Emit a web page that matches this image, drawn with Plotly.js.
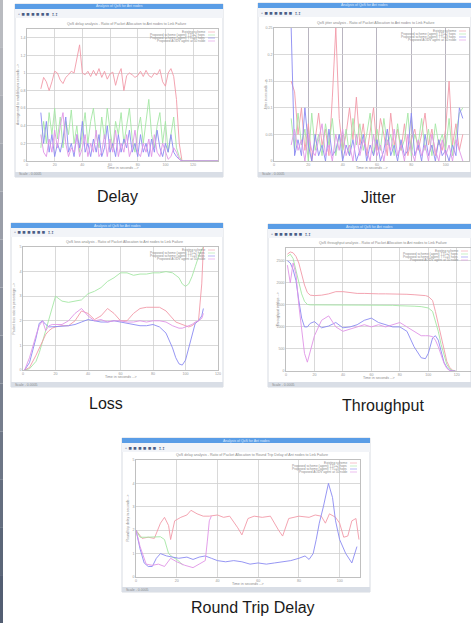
<!DOCTYPE html>
<html><head><meta charset="utf-8">
<script src="https://cdn.plot.ly/plotly-3.0.1.min.js"></script>
<style>html,body{margin:0;padding:0;background:#fff;}#chart{width:471px;height:623px;}</style>
</head><body><div id="chart"></div>
<script>
// ---------------- DATA ----------------
const captions = ["Delay", "Jitter", "Loss", "Throughput", "Round Trip Delay"];
const seriesNames = ["Existing scheme", "Proposed scheme (agent) TTL=2 hops", "Proposed scheme (agent) TTL=3 hops", "Proposed AODV agent at 50 node"];

// Delay
const delayX = [10,12,14,16,18,20,22,24,26,28,30,32,34,36,38,40,42,44,46,48,50,52,54,56,58,60,62,64,66,68,70,72,74,76,78,80,82,84,86,88,90,92,94,96,98,100,102,104,106,108,110,112,140];
const delayRed = [0.82,0.95,0.9,0.8,0.9,1.02,1.0,0.92,0.88,0.95,0.98,1.02,1.0,1.18,1.32,1.0,0.98,1.02,0.96,1.03,0.97,1.05,0.95,1.02,0.93,0.99,1.01,0.86,0.98,1.05,0.8,0.97,1.0,0.98,0.95,0.97,1.02,0.96,1.03,0.97,0.95,1.0,0.98,1.04,0.9,0.85,1.0,1.05,0.96,0.7,0.2,0,0];
const delayGreen = [0.15,0.45,0.2,0.55,0.3,0.6,0.25,0.5,0.15,0.45,0.3,0.58,0.2,0.4,0.1,0.35,0.55,0.2,0.45,0.6,0.3,0.15,0.5,0.25,0.6,0.35,0.15,0.45,0.3,0.55,0.2,0.4,0.6,0.25,0.1,0.35,0.5,0.2,0.45,0.7,0.3,0.15,0.4,0.55,0.2,0.45,0.1,0.3,0.5,0.15,0.05,0,0];
const delayBlue = [0.55,0.2,0.45,0.1,0.3,0.05,0.2,0.1,0.25,0.5,0.1,0.2,0.05,0.3,0.15,0.45,0.1,0.2,0.05,0.25,0.1,0.3,0.05,0.15,0.4,0.1,0.2,0.05,0.3,0.1,0.25,0.15,0.35,0.1,0.2,0.05,0.3,0.1,0.2,0.05,0.25,0.1,0.35,0.15,0.05,0.2,0.1,0.3,0.1,0.05,0.02,0,0];
const delayMagenta = [0.3,0.1,0.05,0.25,0.1,0.35,0.15,0.4,0.55,0.2,0.05,0.15,0.1,0.3,0.05,0.15,0.3,0.05,0.2,0.1,0.35,0.05,0.1,0.3,0.05,0.25,0.1,0.35,0.05,0.2,0.1,0.3,0.05,0.15,0.35,0.1,0.05,0.2,0.1,0.25,0.05,0.3,0.1,0.05,0.2,0.1,0.02,0.05,0.15,0.1,0.02,0,0];

// Jitter
const jitterX = [10,12,14,16,18,20,22,24,26,28,30,32,34,36,38,40,42,44,46,48,50,52,54,56,58,60,62,64,66,68,70,72,74,76,78,80,82,84,86,88,90,92,94,96,98,100,102,104,106,108,110];
const jitterRed = [0.15,0.13,0.05,0.1,0.02,0.07,0.0,0.04,0.09,0.03,0.06,0.01,0.12,0.25,0.08,0.02,0.05,0.1,0.04,0.12,0.03,0.07,0.01,0.06,0.1,0.02,0.08,0.05,0.01,0.09,0.03,0.06,0.02,0.07,0.01,0.04,0.06,0.02,0.05,0.09,0.03,0.06,0.01,0.04,0.02,0.06,0.15,0.03,0.07,0.02,0.05];
const jitterGreen = [0.08,0.02,0.09,0.03,0.06,0.0,0.09,0.02,0.05,0.01,0.07,0.03,0.08,0.01,0.05,0.02,0.06,0.01,0.08,0.03,0.07,0.02,0.05,0.09,0.01,0.06,0.02,0.08,0.03,0.05,0.01,0.07,0.02,0.04,0.09,0.01,0.05,0.03,0.08,0.02,0.06,0.01,0.07,0.03,0.05,0.02,0.08,0.01,0.05,0.09,0.1];
const jitterBlue = [0.25,0.01,0.04,0.01,0.1,0.03,0.0,0.05,0.01,0.03,0.0,0.06,0.01,0.02,0.05,0.0,0.03,0.01,0.04,0.0,0.02,0.05,0.0,0.03,0.01,0.04,0.0,0.02,0.06,0.01,0.03,0.0,0.04,0.01,0.02,0.09,0.01,0.03,0.0,0.05,0.01,0.03,0.0,0.04,0.01,0.02,0.0,0.03,0.01,0.1,0.08];
const jitterMagenta = [0.03,0.06,0.02,0.04,0.0,0.05,0.02,0.01,0.04,0.07,0.01,0.03,0.0,0.05,0.02,0.06,0.01,0.03,0.0,0.05,0.01,0.04,0.02,0.0,0.05,0.01,0.03,0.0,0.04,0.02,0.06,0.01,0.03,0.0,0.05,0.02,0.0,0.04,0.01,0.03,0.0,0.05,0.02,0.0,0.04,0.01,0.03,0.0,0.04,0.02,0.0];

// Loss
const lossX = [1,4,8,10,12,14,16,18,20,24,28,32,36,40,44,48,52,56,60,64,68,72,76,80,84,88,92,94,96,98,100,102,104,106,108,110,111];
const lossGreen = [0,0.05,0.35,0.7,1.15,1.6,2.1,2.6,3.0,2.8,2.75,2.8,2.85,3.1,3.2,3.35,3.6,3.75,3.95,3.95,3.85,3.9,3.9,3.95,3.95,4.0,3.95,3.85,3.75,3.5,3.4,3.5,3.8,4.2,4.6,4.9,5.0];
const lossBlue = [0,0.3,1.3,1.9,2.0,1.85,1.75,1.75,1.75,1.78,1.8,1.85,1.95,2.05,2.0,1.95,1.95,2.0,1.95,1.9,1.85,1.8,1.8,1.85,1.75,1.5,0.9,0.5,0.25,0.2,0.4,0.9,1.5,1.9,2.0,2.2,2.5];
const lossRed = [0,0.1,0.6,0.9,1.2,1.45,1.6,1.7,1.75,1.8,1.8,2.0,2.4,2.3,2.05,2.2,2.5,2.3,2.0,2.0,2.3,2.5,2.55,2.55,2.55,2.4,2.1,1.95,1.9,1.85,1.8,1.75,1.8,1.9,2.0,3.5,5.0];
const lossMagenta = [0,0.5,1.4,1.8,2.0,1.6,1.8,1.85,1.85,1.85,2.0,2.3,2.5,2.2,2.0,2.05,1.95,2.0,2.0,1.95,1.95,2.0,1.95,2.0,2.0,1.95,1.8,1.75,1.7,1.7,1.75,1.8,1.85,1.95,2.0,2.1,2.3];

// Throughput
const tpX = [1,3,5,7,9,11,13,15,17,20,25,30,35,40,45,50,55,60,65,70,75,80,85,90,95,98,100,103,105,107,109,111,113,115,117,119];
const tpRed = [2650,2700,2680,2600,2450,2200,1950,1780,1720,1710,1720,1750,1800,1800,1780,1760,1760,1750,1750,1750,1750,1740,1740,1730,1720,1710,1690,1600,1350,1050,750,450,220,80,20,0];
const tpGreen = [2600,2650,2550,2300,2000,1750,1580,1510,1500,1500,1500,1500,1490,1500,1500,1500,1500,1500,1490,1490,1490,1480,1480,1470,1460,1450,1430,1350,1150,900,600,350,150,50,10,0];
const tpBlue = [2500,2450,2300,2050,1600,1200,1000,1000,1080,1120,980,1020,1100,980,1000,1050,1150,1200,1100,1050,1000,1000,900,550,300,280,400,750,800,700,450,200,80,20,0,0];
const tpMagenta = [2400,2000,2450,2200,1500,900,400,200,450,800,1150,1250,1000,900,950,1000,1050,1000,1050,1000,1050,1100,1000,900,800,800,800,780,700,550,350,180,60,10,0,0];

// Round trip delay
const rtdRedX = [0,3,6,9,12,14,16,17,19,22,25,27,30,33,36,40,43,46,50,52,55,58,62,66,70,72,75,80,85,88,91,93,95,98,100,102,104,106,108,109.5];
const rtdRed = [2.0,1.65,1.7,1.65,2.3,2.55,2.2,1.6,2.4,2.55,2.65,2.85,2.7,2.6,2.6,2.65,2.55,2.6,2.1,1.8,2.5,2.6,2.55,2.6,2.0,1.75,2.5,2.6,2.55,2.65,2.6,2.3,2.7,2.55,2.3,1.7,1.75,2.4,2.5,1.6];
const rtdGreenX = [0,2,5,8,11,12,14,16,18,20,22,23];
const rtdGreen = [2.0,1.7,1.7,1.7,1.7,1.72,1.6,1.0,0.85,0.75,0.6,0.5];
const rtdBlueX = [0,2,4,6,8,10,12,15,18,21,25,28,31,34,37,40,44,48,52,56,60,64,68,72,76,80,83,85,87,88.5,90,92,94.5,96.5,98,100,103,106,108.5];
const rtdBlue = [2.0,1.2,0.6,0.45,0.45,0.8,1.0,0.9,0.85,0.8,0.85,0.75,0.85,0.9,0.8,0.7,0.65,0.7,0.65,0.55,0.6,0.55,0.6,0.65,0.7,0.8,0.9,0.75,1.0,1.6,2.3,3.0,4.0,3.4,2.4,1.6,1.0,0.6,1.3];
const rtdMagentaX = [0,2,5,8,11,14,17,20,24,28,31,34,35,36,37];
const rtdMagenta = [2.0,1.3,0.55,0.5,0.55,0.45,0.8,0.65,0.5,0.4,0.55,0.7,1.5,2.4,2.6];

// ---------------- LAYOUT / STYLE ----------------
const W = 471, H = 623;
const px = x => x / W, py = y => 1 - y / H;
const COL = {red:'#f29aa8', green:'#a4e6a4', blue:'#8a8af2', magenta:'#e094e6'};
const TXT = '#8a8a8a';

const panels = [
  {win:[15,4,223,177], plot:[27,29,218,161], xr:[0,138], xt:[0,20,40,60,80,100,120], yr:[0,1.5], yt:[0,0.2,0.4,0.6,0.8,1,1.2,1.4],
   title:'QoS delay analysis - Ratio of Packet Allocation to Ant nodes to Link Failure', ytitle:'Average end to end delay in seconds -->', status:'Scale - 0.0005', vgrid:'#cfcfcf',
   series:[[delayX,delayRed,'red'],[delayX,delayGreen,'green'],[delayX,delayBlue,'blue'],[delayX,delayMagenta,'magenta']]},
  {win:[258,3,471,177], plot:[274,28,469,161], xr:[0,113.6], xt:[0,20,40,60,80,100], yr:[0,0.25], yt:[0,0.05,0.1,0.15,0.2,0.25],
   title:'QoS jitter analysis - Ratio of Packet Allocation to Ant nodes to Link Failure', ytitle:'Jitter in seconds -->', status:'Scale - 0.0005', vgrid:'#a8a2b0',
   series:[[jitterX,jitterRed,'red'],[jitterX,jitterGreen,'green'],[jitterX,jitterBlue,'blue'],[jitterX,jitterMagenta,'magenta']]},
  {win:[11,223,223,387], plot:[23,247,218,370], xr:[0,120], xt:[0,20,40,60,80,100,120], yr:[0,5], yt:[0,1,2,3,4,5],
   title:'QoS loss analysis - Ratio of Packet Allocation to Ant nodes to Link Failure', ytitle:'Packet loss ratio in percentage -->', status:'Scale - 0.0005', vgrid:'#cfcfcf',
   series:[[lossX,lossGreen,'green'],[lossX,lossRed,'red'],[lossX,lossBlue,'blue'],[lossX,lossMagenta,'magenta']]},
  {win:[268,224,471,387], plot:[286,248,471,371], xr:[0,130], xt:[0,20,40,60,80,100,120], yr:[0,2790], yt:[0,500,1000,1500,2000,2500],
   title:'QoS throughput analysis - Ratio of Packet Allocation to Ant nodes to Link Failure', ytitle:'Throughput in kbps -->', status:'Scale - 0.0005', vgrid:'#cfcfcf',
   series:[[tpX,tpRed,'red'],[tpX,tpGreen,'green'],[tpX,tpBlue,'blue'],[tpX,tpMagenta,'magenta']]},
  {win:[122,438,370,592], plot:[136,460,360,577], xr:[0,110], xt:[0,20,40,60,80,100], yr:[0,5], yt:[0,1,2,3,4,5],
   title:'QoS delay analysis - Ratio of Packet Allocation to Round Trip Delay of Ant nodes to Link Failure', ytitle:'Round trip delay in seconds -->', status:'Scale - 0.0005', vgrid:'#cfcfcf',
   series:[[rtdRedX,rtdRed,'red'],[rtdGreenX,rtdGreen,'green'],[rtdBlueX,rtdBlue,'blue'],[rtdMagentaX,rtdMagenta,'magenta']]}
];
const captionPos = [[117,196],[378,197],[106,404],[383,405],[253,607]];

const traces = [];
const layout = {
  width: W, height: H, margin:{l:0,r:0,t:0,b:0}, paper_bgcolor:'#ffffff', plot_bgcolor:'rgba(0,0,0,0)',
  showlegend:false, hovermode:false, shapes:[], annotations:[],
  font:{family:'Liberation Sans, Arial, sans-serif'}
};

// left edge strip (gradient approximated by bands)
const stripCols = ['#b9bbc0','#b2b4ba','#aaadb4','#a2a6ae','#9a9ea8','#9196a2','#888e9b','#7f8694','#767e8d','#6d7686','#646e7f','#5b6678','#535e72'];
stripCols.forEach((c,i)=>{
  const y0 = i*H/stripCols.length, y1=(i+1)*H/stripCols.length;
  layout.shapes.push({type:'rect',xref:'paper',yref:'paper',x0:0,x1:px(3),y0:py(y1),y1:py(y0),fillcolor:c,line:{width:0},layer:'below'});
});

panels.forEach((p,i)=>{
  const k = i+1;
  const xa = 'xaxis'+(k===1?'':k), ya='yaxis'+(k===1?'':k);
  const [wl,wt,wr,wb] = p.win, [l,t,r,b] = p.plot;
  layout.shapes.push({type:'rect',xref:'paper',yref:'paper',x0:px(wl),x1:px(wr),y0:py(wb),y1:py(wt),fillcolor:'#ffffff',line:{color:'#cdd2da',width:0.8},layer:'below'});
  layout.shapes.push({type:'rect',xref:'paper',yref:'paper',x0:px(wl),x1:px(wr),y0:py(wt+5),y1:py(wt),fillcolor:'#5a9de6',line:{width:0},layer:'below'});
  layout.shapes.push({type:'rect',xref:'paper',yref:'paper',x0:px(wl),x1:px(wr),y0:py(wt+14),y1:py(wt+5),fillcolor:'#f2f4f8',line:{width:0},layer:'below'});
  layout.shapes.push({type:'rect',xref:'paper',yref:'paper',x0:px(wl),x1:px(wr),y0:py(wb),y1:py(wb-5),fillcolor:'#d9dee6',line:{width:0},layer:'below'});

  layout.annotations.push({xref:'paper',yref:'paper',x:px((wl+wr)/2),y:py(wt+2.5),text:'Analysis of QoS for Ant nodes',showarrow:false,font:{size:3.5,color:'#dfeaff'},xanchor:'center',yanchor:'middle'});
  layout.annotations.push({xref:'paper',yref:'paper',x:px(wl+1),y:py(wt+9.5),text:'◦ ■ ■ ■ ■ ■ ■  ɪ.ɪ',showarrow:false,font:{size:5.5,color:'#4a5d86'},xanchor:'left',yanchor:'middle'});
  layout.annotations.push({xref:'paper',yref:'paper',x:px((l+r)/2+4),y:py(t-5),text:p.title,showarrow:false,font:{size:3.6,color:TXT},xanchor:'center',yanchor:'middle'});
  layout.annotations.push({xref:'paper',yref:'paper',x:px(wl+2),y:py(wb-2.5),text:p.status,showarrow:false,font:{size:3.5,color:TXT},xanchor:'left',yanchor:'middle'});
  layout.annotations.push({xref:'paper',yref:'paper',x:px((l+r)/2),y:py(b+7),text:'Time in seconds -->',showarrow:false,font:{size:3.6,color:TXT},xanchor:'center',yanchor:'middle'});
  layout.annotations.push({xref:'paper',yref:'paper',x:px(l-9),y:py((t+b)/2),text:p.ytitle,textangle:-90,showarrow:false,font:{size:3.4,color:TXT},xanchor:'center',yanchor:'middle'});

  p.series.forEach((s,j)=>{
    const yy = t+3+j*3;
    layout.annotations.push({xref:'paper',yref:'paper',x:px(r-11),y:py(yy),text:seriesNames[j],showarrow:false,font:{size:3.2,color:TXT},xanchor:'right',yanchor:'middle'});
  });
  ['red','green','blue','magenta'].forEach((c,j)=>{
    const yy = t+3+j*3;
    layout.shapes.push({type:'line',xref:'paper',yref:'paper',x0:px(r-10),x1:px(r-3),y0:py(yy),y1:py(yy),line:{color:COL[c],width:0.6}});
  });

  layout[xa] = {domain:[px(l),px(r)], anchor:'y'+(k===1?'':k), range:p.xr, tickvals:p.xt, showgrid:true, gridcolor:p.vgrid, gridwidth:0.8,
    zeroline:false, showline:true, mirror:true, linecolor:'#b0b0b0', linewidth:0.8, ticks:'', tickfont:{size:3.6,color:'#999'}, fixedrange:true};
  layout[ya] = {domain:[py(b),py(t)], anchor:'x'+(k===1?'':k), range:p.yr, tickvals:p.yt, showgrid:true, gridcolor:'#cfcfcf', gridwidth:0.8,
    zeroline:false, showline:true, mirror:true, linecolor:'#b0b0b0', linewidth:0.8, ticks:'', tickfont:{size:3.6,color:'#999'}, fixedrange:true};

  p.series.forEach(s=>{
    traces.push({type:'scatter',mode:'lines',x:s[0],y:s[1],xaxis:'x'+(k===1?'':k),yaxis:'y'+(k===1?'':k),
      line:{color:COL[s[2]],width:0.9},cliponaxis:true});
  });

  layout.annotations.push({xref:'paper',yref:'paper',x:px(captionPos[i][0]),y:py(captionPos[i][1]),text:captions[i],showarrow:false,
    font:{size:16,color:'#1a1a1a',family:'Liberation Sans, Arial, sans-serif'},xanchor:'center',yanchor:'middle'});
});

Plotly.newPlot('chart', traces, layout, {staticPlot:true, displayModeBar:false});
</script>
</body></html>
